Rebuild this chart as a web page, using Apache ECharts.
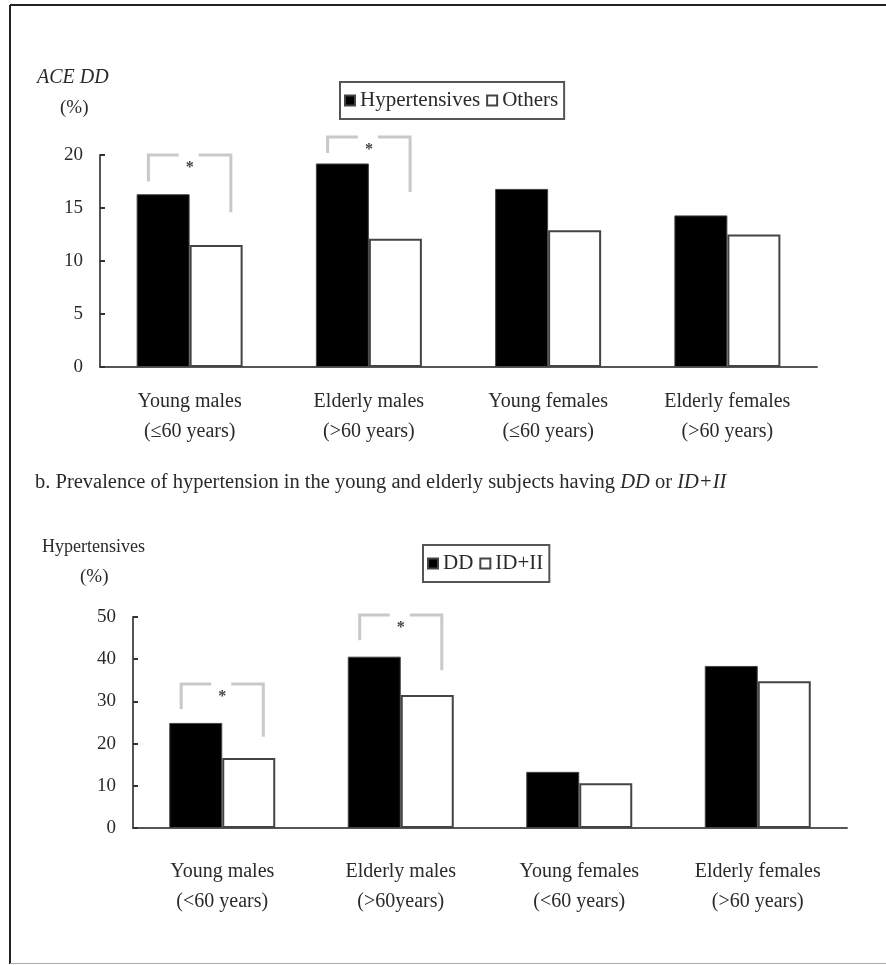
<!DOCTYPE html>
<html>
<head>
<meta charset="utf-8">
<script src="https://cdn.jsdelivr.net/npm/echarts@6/dist/echarts.min.js"></script>
<style>
  html, body { margin: 0; padding: 0; background: #fff; }
  #main { width: 886px; height: 965px; }
</style>
</head>
<body>
<div id="main"></div>
<script>
// a. ACE DD genotype in hypertensives vs others
const categoriesA = ['Young males\n(≤60 years)', 'Elderly males\n(>60 years)', 'Young females\n(≤60 years)', 'Elderly females\n(>60 years)']
const hypertensives = [16.3, 19.2, 16.8, 14.3]
const others = [11.5, 12.1, 12.9, 12.5]
// b. prevalence of hypertension, DD vs ID+II
const categoriesB = ['Young males\n(<60 years)', 'Elderly males\n(>60years)', 'Young females\n(<60 years)', 'Elderly females\n(>60 years)']
const dd = [24.9, 40.6, 13.3, 38.4]
const idii = [16.6, 31.5, 10.6, 34.8]

// significance brackets: category index, height of bar, ends of left/right legs (axis units)
const bracketsA = [
  { cat: 0, top: 20.0, leftEnd: 17.5, rightEnd: 14.6 },
  { cat: 1, top: 21.7, leftEnd: 20.2, rightEnd: 16.5 }
]
const bracketsB = [
  { cat: 0, top: 34.1, leftEnd: 28.2, rightEnd: 21.6 },
  { cat: 1, top: 50.5, leftEnd: 44.5, rightEnd: 37.4 }
]

const FONT = '"Liberation Serif", "DejaVu Serif", serif'
const TEXT = '#2a2a2a'
const AXIS = '#555'

const chart = echarts.init(document.getElementById('main'))

function valueAxis(grid, max, interval) {
  return {
    type: 'value',
    gridIndex: grid,
    min: 0,
    max: max,
    interval: interval,
    axisLine: { show: true, lineStyle: { color: AXIS, width: 2 } },
    axisTick: { show: true, inside: true, length: 5, lineStyle: { color: '#333', width: 2 } },
    splitLine: { show: false },
    axisLabel: { color: TEXT, fontFamily: FONT, fontSize: 19, margin: 17 }
  }
}

function catAxis(grid, data, margin) {
  return {
    type: 'category',
    gridIndex: grid,
    data: data,
    axisLine: { lineStyle: { color: AXIS, width: 2 } },
    axisTick: { show: false },
    axisLabel: { color: TEXT, fontFamily: FONT, fontSize: 20, lineHeight: 30, margin: margin, interval: 0 }
  }
}

const blackBar = { color: '#000', borderColor: '#444', borderWidth: 1 }
const whiteBar = { color: '#fff', borderColor: '#444', borderWidth: 2 }

function legendBox(left, top, data) {
  return {
    left: left,
    top: top,
    data: data,
    orient: 'horizontal',
    icon: 'rect',
    itemWidth: 10,
    itemHeight: 10,
    itemGap: 6,
    padding: [8, 6, 8, 4],
    borderColor: '#555',
    borderWidth: 2,
    borderRadius: 0,
    selectedMode: false,
    textStyle: { color: TEXT, fontFamily: FONT, fontSize: 21, padding: [0, 0, 0, 0] }
  }
}

chart.setOption({
  animation: false,
  backgroundColor: '#fff',
  grid: [
    { left: 100, top: 155, width: 717, height: 212 },
    { left: 133, top: 617, width: 714, height: 211 }
  ],
  legend: [
    legendBox(340, 82, ['Hypertensives', 'Others']),
    legendBox(423, 545, ['DD', 'ID+II'])
  ],
  xAxis: [catAxis(0, categoriesA, 20), catAxis(1, categoriesB, 29)],
  yAxis: [valueAxis(0, 20, 5), valueAxis(1, 50, 10)],
  series: [
    { name: 'Hypertensives', type: 'bar', xAxisIndex: 0, yAxisIndex: 0, data: hypertensives, barWidth: 53, barGap: '0%', itemStyle: blackBar },
    { name: 'Others', type: 'bar', xAxisIndex: 0, yAxisIndex: 0, data: others, barWidth: 53, barGap: '0%', itemStyle: whiteBar },
    { name: 'DD', type: 'bar', xAxisIndex: 1, yAxisIndex: 1, data: dd, barWidth: 53, barGap: '0%', itemStyle: blackBar },
    { name: 'ID+II', type: 'bar', xAxisIndex: 1, yAxisIndex: 1, data: idii, barWidth: 53, barGap: '0%', itemStyle: whiteBar }
  ]
})

// brackets, asterisks, titles and frame
function bracketGraphics(gridIndex, list) {
  const out = []
  const c0 = chart.convertToPixel({ gridIndex: gridIndex }, [0, 0])
  const c1 = chart.convertToPixel({ gridIndex: gridIndex }, [1, 0])
  const band = c1[0] - c0[0]
  const line = { stroke: '#c9c9c9', lineWidth: 3 }
  list.forEach(function(b) {
    const cx = chart.convertToPixel({ gridIndex: gridIndex }, [b.cat, 0])[0]
    const yTop = chart.convertToPixel({ gridIndex: gridIndex }, [b.cat, b.top])[1]
    const yL = chart.convertToPixel({ gridIndex: gridIndex }, [b.cat, b.leftEnd])[1]
    const yR = chart.convertToPixel({ gridIndex: gridIndex }, [b.cat, b.rightEnd])[1]
    const xl = cx - band * 0.23
    const xr = cx + band * 0.23
    out.push({ type: 'polyline', shape: { points: [[xl, yL], [xl, yTop], [cx - 11, yTop]] }, style: line })
    out.push({ type: 'polyline', shape: { points: [[cx + 9, yTop], [xr, yTop], [xr, yR]] }, style: line })
    out.push({ type: 'text', x: cx, y: yTop + 13, style: { text: '*', fill: '#444', font: 'bold 16px ' + FONT, align: 'center', verticalAlign: 'middle' } })
  })
  return out
}

const labelStyle = function(text, x, y, size, italic) {
  return {
    type: 'text', x: x, y: y,
    style: { text: text, fill: TEXT, font: (italic ? 'italic ' : '') + size + 'px ' + FONT, verticalAlign: 'middle' }
  }
}

chart.setOption({
  graphic: [
    { type: 'line', shape: { x1: 10, y1: 5, x2: 886, y2: 5 }, style: { stroke: '#222', lineWidth: 2 } },
    { type: 'line', shape: { x1: 10, y1: 5, x2: 10, y2: 964 }, style: { stroke: '#222', lineWidth: 2 } },
    { type: 'line', shape: { x1: 10, y1: 963.5, x2: 886, y2: 963.5 }, style: { stroke: '#aaa', lineWidth: 1 } },
    labelStyle('ACE DD', 37, 78, 20, true),
    labelStyle('(%)', 60, 108, 19, false),
    labelStyle('Hypertensives', 42, 547, 18, false),
    labelStyle('(%)', 80, 577, 19, false),
    {
      type: 'text', x: 35, y: 483,
      style: {
        text: '{n|b. Prevalence of hypertension in the young and elderly subjects having }{i|DD}{n| or }{i|ID+II}',
        verticalAlign: 'middle',
        rich: {
          n: { fill: TEXT, fontFamily: FONT, fontSize: 20.5 },
          i: { fill: TEXT, fontFamily: FONT, fontSize: 20.5, fontStyle: 'italic' }
        }
      }
    }
  ].concat(bracketGraphics(0, bracketsA), bracketGraphics(1, bracketsB))
})
</script>
</body>
</html>
